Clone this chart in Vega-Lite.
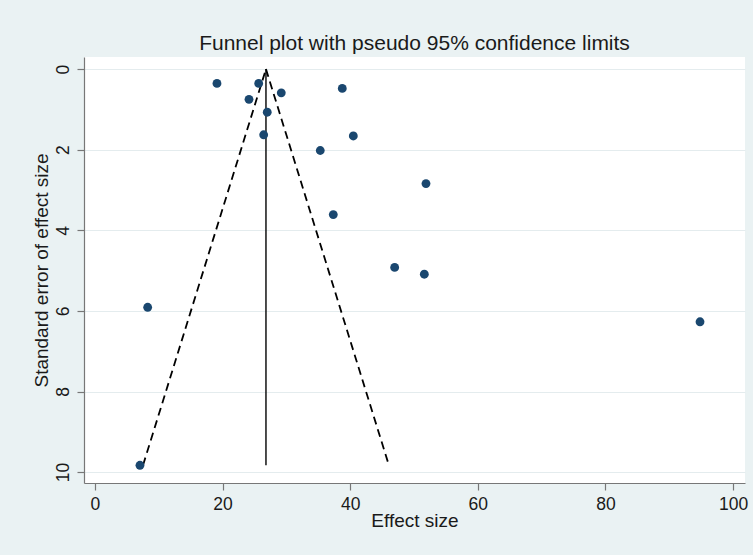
{
  "$schema": "https://vega.github.io/schema/vega-lite/v6.json",
  "autosize": "none",
  "width": 661,
  "height": 426,
  "padding": {"left": 84, "top": 57, "right": 8, "bottom": 72},
  "background": "#EAF2F3",
  "title": {
    "text": "Funnel plot with pseudo 95% confidence limits",
    "font": "Liberation Sans",
    "fontSize": 21,
    "fontWeight": "normal",
    "color": "#1a1a1a",
    "anchor": "middle",
    "offset": 3
  },
  "datasets": {
    "studies": [
      {"es": 19.12, "se": 0.355},
      {"es": 25.66, "se": 0.355},
      {"es": 24.14, "se": 0.75},
      {"es": 29.2, "se": 0.59},
      {"es": 38.76, "se": 0.48},
      {"es": 27.0, "se": 1.07},
      {"es": 26.44, "se": 1.63},
      {"es": 40.49, "se": 1.66},
      {"es": 35.31, "se": 2.02},
      {"es": 51.88, "se": 2.84},
      {"es": 37.35, "se": 3.61},
      {"es": 46.97, "se": 4.92},
      {"es": 51.62, "se": 5.09},
      {"es": 8.26, "se": 5.91},
      {"es": 94.83, "se": 6.27},
      {"es": 7.05, "se": 9.83}
    ],
    "limits": [
      {"line": "lower", "es": 26.8, "se": 0},
      {"line": "lower", "es": 7.53, "se": 9.83},
      {"line": "upper", "es": 26.8, "se": 0},
      {"line": "upper", "es": 46.07, "se": 9.83}
    ],
    "pooled": [
      {"es": 26.8, "se": 0},
      {"es": 26.8, "se": 9.83}
    ]
  },
  "encoding": {
    "x": {
      "field": "es",
      "type": "quantitative",
      "scale": {"domain": [-1.72, 101.88], "nice": false, "zero": false},
      "axis": {
        "title": "Effect size",
        "values": [0, 20, 40, 60, 80, 100],
        "grid": false,
        "titlePadding": -1
      }
    },
    "y": {
      "field": "se",
      "type": "quantitative",
      "scale": {"domain": [-0.3, 10.27], "nice": false, "zero": false, "reverse": true},
      "axis": {
        "title": "Standard error of effect size",
        "values": [0, 2, 4, 6, 8, 10],
        "grid": true,
        "labelAngle": -90,
        "labelAlign": "center",
        "labelBaseline": "bottom",
        "labelPadding": 5,
        "titlePadding": 3
      }
    }
  },
  "layer": [
    {
      "data": {"name": "limits"},
      "mark": {"type": "line", "color": "black", "strokeWidth": 1.8, "strokeDash": [8, 5]},
      "encoding": {"detail": {"field": "line"}}
    },
    {
      "data": {"name": "pooled"},
      "mark": {"type": "line", "color": "black", "strokeWidth": 1.4}
    },
    {
      "data": {"name": "studies"},
      "mark": {"type": "circle", "color": "#1a476f", "opacity": 1, "size": 78}
    }
  ],
  "config": {
    "view": {"fill": "white", "stroke": null},
    "axis": {
      "labelFont": "Liberation Sans",
      "labelFontSize": 17.5,
      "labelColor": "#1a1a1a",
      "titleFont": "Liberation Sans",
      "titleFontSize": 19,
      "titleFontWeight": "normal",
      "titleColor": "#1a1a1a",
      "domainColor": "#777777",
      "domainWidth": 1.2,
      "tickColor": "#777777",
      "tickSize": 7,
      "tickWidth": 1.2,
      "gridColor": "#E4ECEE",
      "gridWidth": 1,
      "labelFlush": false,
      "labelOverlap": false
    },
    "axisX": {"labelPadding": 5}
  }
}
